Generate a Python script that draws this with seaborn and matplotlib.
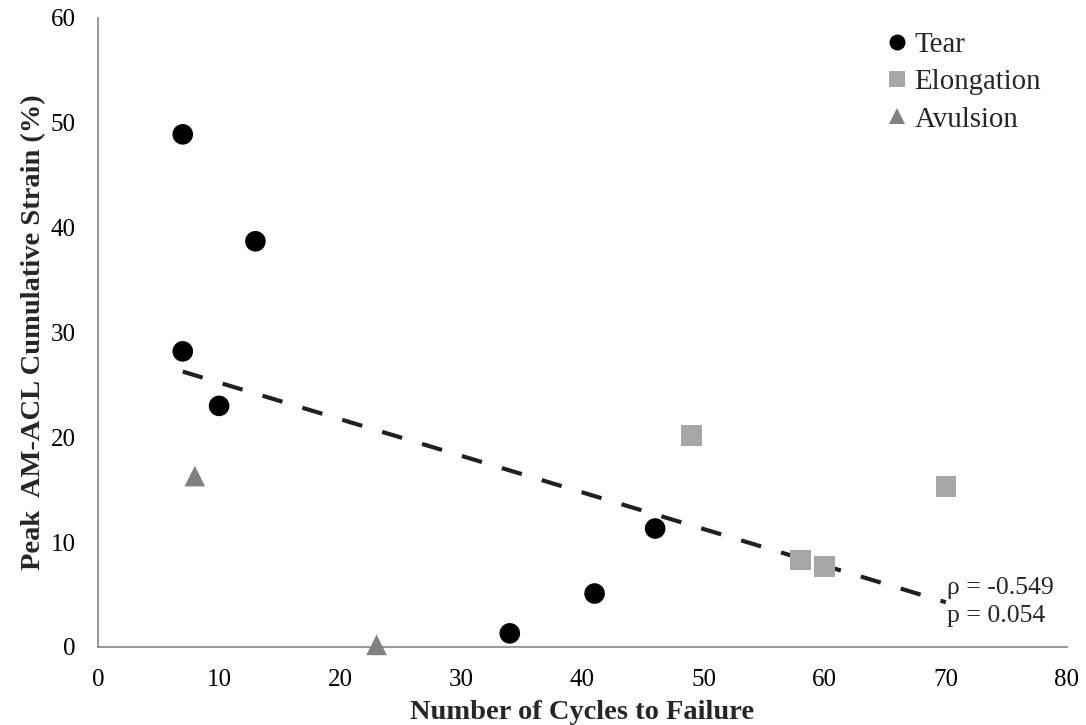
import matplotlib
matplotlib.use("Agg")
import matplotlib.pyplot as plt
import seaborn as sns
import pandas as pd

# Data
tear_x = [7, 13, 7, 10, 46, 41, 34]
tear_y = [48.9, 38.7, 28.2, 23.0, 11.3, 5.1, 1.3]
elong_x = [49, 70, 58, 60]
elong_y = [20.2, 15.3, 8.3, 7.7]
avul_x = [8, 23]
avul_y = [16.3, 0.2]
categories = ["Tear", "Elongation", "Avulsion"]
x_ticks = [0, 10, 20, 30, 40, 50, 60, 70, 80]
y_ticks = [0, 10, 20, 30, 40, 50, 60]
annot = "ρ = -0.549\np = 0.054"

df = pd.DataFrame({
    "cycles": tear_x + elong_x + avul_x,
    "strain": tear_y + elong_y + avul_y,
    "mode": ["Tear"] * len(tear_x) + ["Elongation"] * len(elong_x) + ["Avulsion"] * len(avul_x),
})

sns.set_theme(style="white")
plt.rcParams["font.family"] = ["Liberation Serif", "DejaVu Serif"]

fig = plt.figure(figsize=(10.86, 7.25), dpi=100)
ax = fig.add_axes([0.0902, 0.1076, 0.8923, 0.8676])

palette = {"Tear": "#000000", "Elongation": "#a6a6a6", "Avulsion": "#808080"}
markers = {"Tear": "o", "Elongation": "s", "Avulsion": "^"}

sns.regplot(data=df, x="cycles", y="strain", scatter=False, ci=None, truncate=True,
            ax=ax, line_kws=dict(color="#231f20", lw=3, ls=(0, (5, 5)), zorder=1))

sns.scatterplot(data=df, x="cycles", y="strain", hue="mode", style="mode",
                hue_order=categories, style_order=categories,
                palette=palette, markers=markers, s=220, edgecolor="none",
                ax=ax, zorder=3, clip_on=False)

ax.set_xlim(0, 80)
ax.set_ylim(0, 60)
ax.set_xticks(x_ticks)
ax.set_yticks(y_ticks)
ax.tick_params(axis="both", labelsize=18, colors="black", length=5, width=1,
               direction="out", color="#868686")
ax.tick_params(axis="x", pad=11)
ax.tick_params(axis="y", pad=11)
for s in ["top", "right"]:
    ax.spines[s].set_visible(False)
for s in ["left", "bottom"]:
    ax.spines[s].set_color("#868686")
    ax.spines[s].set_linewidth(1.2)

ax.set_xlabel("Number of Cycles to Failure", fontsize=20.5, fontweight="bold", labelpad=6)
ax.set_ylabel("Peak  AM-ACL Cumulative Strain (%)", fontsize=20.5, fontweight="bold", labelpad=3)

ax.text(70.1, 4.3, annot, fontsize=18.5, va="center", ha="left", linespacing=1.4)

leg = ax.legend(loc="upper right", bbox_to_anchor=(0.994, 1.01), frameon=False,
                fontsize=20.8, handletextpad=0.0, handlelength=1.2,
                labelspacing=0.38, borderaxespad=0.3)
for h in leg.legend_handles:
    h.set_markersize(11.5)

fig.savefig("out.png", dpi=100)
